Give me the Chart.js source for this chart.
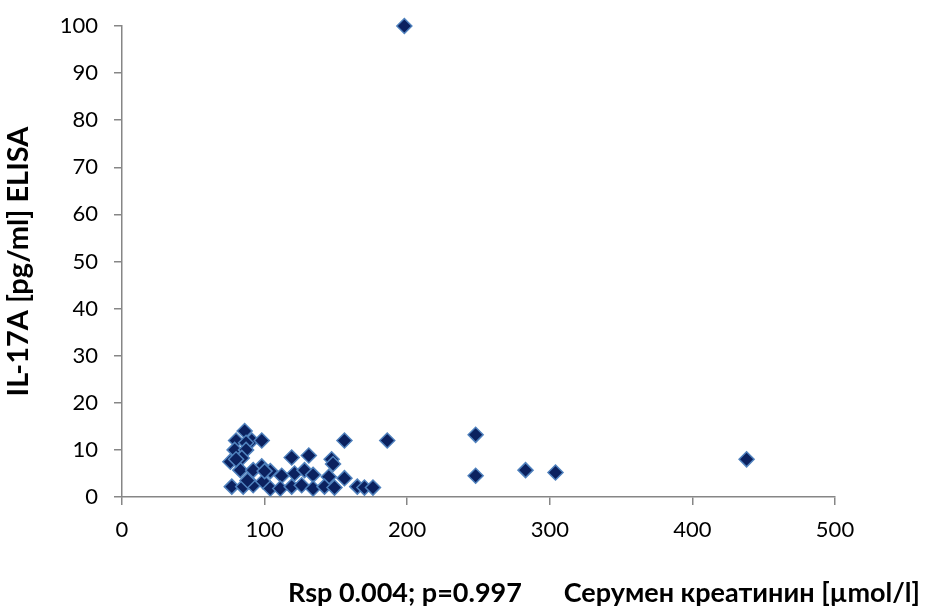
<!DOCTYPE html>
<html><head><meta charset="utf-8">
<script src="https://cdn.jsdelivr.net/npm/chart.js@4/dist/chart.umd.min.js"></script>
<style>html,body{margin:0;padding:0;background:#fff}#wrap{width:926px;height:608px}</style>
</head><body><div id="wrap"><canvas id="c" width="926" height="608"></canvas></div>
<script>
const creatinine = [198,186,248,248,283,304,438,156,86,80,91,98,87,79,87,76,84,119,131,147,148,98,104,83,92,112,121,128,134,145,156,77,85,92,99,104,111,119,126,134,142,149,165,170,176,88,80,100];
const il17a = [100,12,13.2,4.5,5.7,5.2,8,12,14,12,12,12,11.5,10,10,7.5,8.3,8.4,8.8,8,7,6.5,5.5,5.7,5.7,4.5,5,5.7,4.7,4.3,4,2.2,2.2,2.5,3.3,1.8,1.8,2.2,2.5,1.8,2.2,2,2.2,2,2,3.5,8,5.5];
const xTicks = [0,100,200,300,400,500];
const yTicks = [0,10,20,30,40,50,60,70,80,90,100];
const yTitle = 'IL-17A [pg/ml] ELISA';
const noteText = 'Rsp 0.004; p=0.997';
const xTitle = 'Серумен креатинин [µmol/l]';

const FONT = 'Lato, "Open Sans", sans-serif';
const points = creatinine.map((x,i)=>({x:x,y:il17a[i]}));

const bottomText = {
  id:'bottomText',
  afterDraw(chart){
    const ctx = chart.ctx;
    ctx.save();
    ctx.font = 'bold 27px ' + FONT;
    ctx.fillStyle = '#000';
    ctx.textBaseline = 'alphabetic';
    ctx.textAlign = 'left';
    ctx.fillText(noteText, 288, 602);
    ctx.textAlign = 'right';
    ctx.fillText(xTitle, 920, 602);
    ctx.restore();
  }
};

new Chart(document.getElementById('c'), {
  type:'scatter',
  data:{datasets:[{
    data:points,
    pointStyle:'rectRot',
    pointRadius:7.5,
    pointHoverRadius:7.5,
    backgroundColor:'#0b215f',
    borderColor:'#4f81bd',
    borderWidth:1.5,
    clip:false
  }]},
  options:{
    responsive:false,
    animation:false,
    layout:{padding:{top:26,right:91,bottom:0,left:0}},
    plugins:{legend:{display:false},tooltip:{enabled:false}},
    scales:{
      x:{
        type:'linear', min:0, max:500,
        afterBuildTicks(s){ s.ticks = xTicks.map(v=>({value:v})); },
        afterFit(s){ s.height = 111; s.paddingLeft = 0; s.paddingRight = 0; },
        grid:{drawOnChartArea:false, drawTicks:true, tickLength:8, color:'#868686', lineWidth:1.5},
        border:{color:'#868686', width:1.5},
        ticks:{color:'#000', font:{family:FONT, size:22}, padding:12, maxRotation:0}
      },
      y:{
        type:'linear', min:0, max:100,
        afterBuildTicks(s){ s.ticks = yTicks.map(v=>({value:v})); },
        afterFit(s){ s.width = 122; s.paddingTop = 0; s.paddingBottom = 0; },
        grid:{drawOnChartArea:false, drawTicks:true, tickLength:8, color:'#868686', lineWidth:1.5},
        border:{color:'#868686', width:1.5},
        ticks:{color:'#000', font:{family:FONT, size:22}, padding:16},
        title:{display:true, text:yTitle, color:'#000', font:{family:FONT, size:29, weight:'bold'}, padding:{top:1,bottom:0}}
      }
    }
  },
  plugins:[bottomText]
});
</script></body></html>
